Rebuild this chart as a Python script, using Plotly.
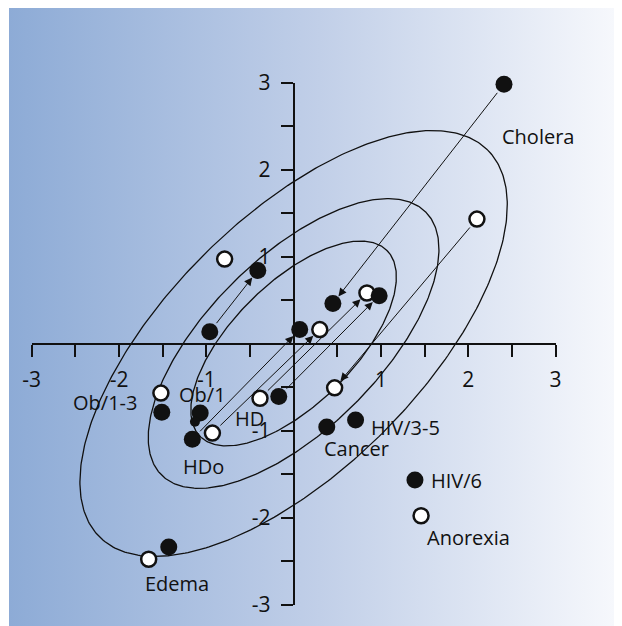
import numpy as np
import plotly.graph_objects as go

# ---------------- data ----------------
filled_x = [2.41, 0.45, 0.98, 0.07, -0.96, -0.41, -0.17, -1.51, -1.07, -1.16, 0.38, 0.71, 1.39, -1.43]
filled_y = [2.98, 0.46, 0.55, 0.16, 0.135, 0.84, -0.61, -0.79, -0.80, -1.10, -0.96, -0.88, -1.57, -2.34]

small_x = [-1.13]
small_y = [-0.90]

open_x = [2.10, -0.79, 0.84, 0.30, 0.47, -0.385, -1.52, -0.93, 1.46, -1.66]
open_y = [1.43, 0.97, 0.58, 0.16, -0.51, -0.63, -0.57, -1.03, -1.98, -2.48]

# arrows: from (x0, y0) to (x1, y1)
arrow_x0 = [2.41, 2.10, -0.96, -1.16, -0.93, -0.385, -0.17]
arrow_y0 = [2.98, 1.43, 0.135, -1.10, -1.03, -0.63, -0.61]
arrow_x1 = [0.45, 0.47, -0.41, 0.07, 0.30, 0.84, 0.98]
arrow_y1 = [0.46, -0.51, 0.84, 0.16, 0.16, 0.58, 0.55]

label_text = ["Cholera", "Ob/1-3", "Ob/1", "HD", "HDo", "Cancer", "HIV/3-5", "HIV/6", "Anorexia", "Edema"]
label_x = [2.80, -2.16, -1.04, -0.50, -1.03, 0.715, 1.28, 1.87, 2.00, -1.34]
label_y = [2.385, -0.68, -0.59, -0.86, -1.41, -1.21, -0.96, -1.57, -2.23, -2.76]

ellipse_levels = [0.50, 0.75, 0.95]
rho = 0.65

tick_vals = [-3, -2.5, -2, -1.5, -1, -0.5, 0.5, 1, 1.5, 2, 2.5, 3]
tick_text = ["" if v != int(v) else str(int(v)) for v in tick_vals]

# ---------------- geometry ----------------
W, H = 622, 626
PAGE = 8  # default page margin around the plot div
x0px, ux = 293.6 - PAGE, 87.3
y0px, uy = 343.5 - PAGE, 87.0
FONT = "Open Sans"
INK = "#111111"

fig = go.Figure()

# gradient background on a full-page helper axis pair
fig.add_trace(go.Scatter(
    x=[9 - PAGE, W, W, 9 - PAGE, 9 - PAGE], y=[8 - PAGE, 8 - PAGE, H, H, 8 - PAGE],
    mode="lines", line=dict(width=0), fill="toself",
    fillgradient=dict(type="horizontal",
                      colorscale=[[0, "#8DABD6"], [0.5, "#C1CFE8"], [1, "#F9FAFD"]]),
    hoverinfo="skip", showlegend=False, xaxis="x", yaxis="y"))

# tolerance ellipses
t = np.linspace(0, 2 * np.pi, 400)
for p in ellipse_levels:
    c = -2 * np.log(1 - p)
    a = np.sqrt((1 + rho) * c)
    b = np.sqrt((1 - rho) * c)
    ex = (a * np.cos(t) - b * np.sin(t)) / np.sqrt(2)
    ey = (a * np.cos(t) + b * np.sin(t)) / np.sqrt(2)
    fig.add_trace(go.Scatter(x=ex, y=ey, mode="lines",
                             line=dict(color=INK, width=1.3),
                             hoverinfo="skip", showlegend=False,
                             xaxis="x2", yaxis="y2"))

fig.add_trace(go.Scatter(x=open_x, y=open_y, mode="markers",
                         marker=dict(size=15, color="white", line=dict(color=INK, width=2.5)),
                         cliponaxis=False, showlegend=False, xaxis="x2", yaxis="y2"))
fig.add_trace(go.Scatter(x=filled_x, y=filled_y, mode="markers",
                         marker=dict(size=17, color=INK, line=dict(width=0)),
                         cliponaxis=False, showlegend=False, xaxis="x2", yaxis="y2"))
fig.add_trace(go.Scatter(x=small_x, y=small_y, mode="markers",
                         marker=dict(size=10, color=INK, line=dict(width=0)),
                         cliponaxis=False, showlegend=False, xaxis="x2", yaxis="y2"))

annotations = []
for xa, ya, xb, yb in zip(arrow_x0, arrow_y0, arrow_x1, arrow_y1):
    annotations.append(dict(
        x=xb, y=yb, ax=xa, ay=ya, xref="x2", yref="y2", axref="x2", ayref="y2",
        text="", showarrow=True, arrowhead=2, arrowsize=1.6, arrowwidth=1,
        arrowcolor=INK, standoff=9, startstandoff=9))

for txt, lx, ly in zip(label_text, label_x, label_y):
    annotations.append(dict(x=lx, y=ly, xref="x2", yref="y2", text=txt,
                            showarrow=False, font=dict(family=FONT, size=20, color=INK)))

annotations.append(dict(x=3.28, y=-0.85, xref="x2", yref="y2", text="Z (R)",
                        showarrow=False, font=dict(family=FONT, size=28, color=INK)))
annotations.append(dict(x=-0.70, y=3.27, xref="x2", yref="y2", text="Z (Xc)", textangle=-90,
                        showarrow=False, font=dict(family=FONT, size=28, color=INK)))

axis_common = dict(range=[-3, 3], showgrid=False, zeroline=False, showline=True,
                   linecolor=INK, linewidth=2, ticks="outside", ticklen=12,
                   tickwidth=2, tickcolor=INK, tickmode="array",
                   tickvals=tick_vals, ticktext=tick_text, automargin=False,
                   tickfont=dict(family=FONT, size=21, color=INK), fixedrange=True)

fig.update_layout(
    template="none",
    width=W, height=H,
    margin=dict(l=0, r=0, t=0, b=0, pad=0, autoexpand=False),
    paper_bgcolor="white", plot_bgcolor="rgba(0,0,0,0)",
    showlegend=False,
    xaxis=dict(domain=[0, 1], range=[0, W], visible=False, fixedrange=True, automargin=False),
    yaxis=dict(domain=[0, 1], range=[H, 0], visible=False, fixedrange=True, automargin=False),
    xaxis2=dict(domain=[(x0px - 3 * ux) / W, (x0px + 3 * ux) / W],
                anchor="free", position=(H - y0px) / H, side="bottom",
                ticklabelstandoff=5, **axis_common),
    yaxis2=dict(domain=[(H - (y0px + 3 * uy)) / H, (H - (y0px - 3 * uy)) / H],
                anchor="free", position=x0px / W, side="left",
                ticklabelstandoff=6, **axis_common),
    annotations=annotations,
)

fig.write_html("out.html")
